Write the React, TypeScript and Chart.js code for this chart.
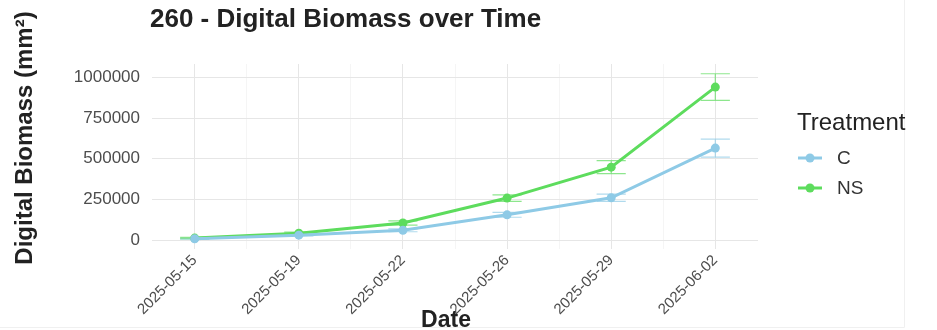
import React, { useEffect, useRef } from "react";
import { Chart, registerables } from "chart.js";

Chart.register(...registerables);

const TITLE = "260 - Digital Biomass over Time";
const X_TITLE = "Date";
const Y_TITLE = "Digital Biomass (mm²)";
const LEGEND_TITLE = "Treatment";

const dates = ["2025-05-15", "2025-05-19", "2025-05-22", "2025-05-26", "2025-05-29", "2025-06-02"];
const seriesNames = ["C", "NS"];
const cValues = [8000, 30000, 60000, 155000, 260000, 565000];
const cErrors = [3000, 5000, 9000, 15000, 22000, 55000];
const nsValues = [12000, 42000, 105000, 258000, 448000, 940000];
const nsErrors = [4000, 7000, 13000, 20000, 40000, 82000];
const yTicks = [0, 125000, 250000, 375000, 500000, 625000, 750000, 875000, 1000000];
const xTicks = [0, 0.5, 1, 1.5, 2, 2.5, 3, 3.5, 4, 4.5, 5];

const C_COLOR = "#8ecae6";
const NS_COLOR = "#5ddc5d";
const FONT = "'Liberation Sans', Arial, sans-serif";

const errorBarPlugin = {
  id: "errorBars",
  beforeDatasetsDraw(chart: any) {
    const { ctx, scales } = chart;
    const x = scales.x;
    const y = scales.y;
    chart.data.datasets.forEach((ds: any) => {
      const errs: number[] = ds.errors;
      ctx.save();
      ctx.strokeStyle = ds.borderColor;
      ctx.globalAlpha = 0.7;
      ctx.lineWidth = 1.2;
      ds.data.forEach((pt: any, i: number) => {
        const xc = x.getPixelForValue(pt.x);
        const xl = x.getPixelForValue(pt.x - 0.14);
        const xr = x.getPixelForValue(pt.x + 0.14);
        const yt = y.getPixelForValue(pt.y + errs[i]);
        const yb = y.getPixelForValue(pt.y - errs[i]);
        ctx.beginPath();
        ctx.moveTo(xl, yt); ctx.lineTo(xr, yt);
        ctx.moveTo(xl, yb); ctx.lineTo(xr, yb);
        ctx.moveTo(xc, yt); ctx.lineTo(xc, yb);
        ctx.stroke();
      });
      ctx.restore();
    });
  },
};

const textPlugin = {
  id: "texts",
  afterDraw(chart: any) {
    const { ctx, chartArea } = chart;
    ctx.save();
    // faint outer frame edges
    ctx.strokeStyle = "#f0f0f0";
    ctx.lineWidth = 1;
    ctx.beginPath();
    ctx.moveTo(904.5, 0); ctx.lineTo(904.5, 327.5); ctx.lineTo(0, 327.5);
    ctx.stroke();

    ctx.fillStyle = "#222222";
    ctx.textBaseline = "middle";
    // title
    ctx.font = `bold 26px ${FONT}`;
    ctx.textAlign = "left";
    ctx.fillText(TITLE, chartArea.left - 2, 20);
    // x title
    ctx.font = `bold 23px ${FONT}`;
    ctx.textAlign = "center";
    ctx.fillText(X_TITLE, (chartArea.left + chartArea.right) / 2 - 9, 321);
    // y title
    ctx.save();
    ctx.translate(25, 138);
    ctx.rotate(-Math.PI / 2);
    ctx.font = `bold 24px ${FONT}`;
    ctx.fillText(Y_TITLE, 0, 0);
    ctx.restore();
    // legend
    const lx = chartArea.right + 39;
    ctx.font = `24px ${FONT}`;
    ctx.textAlign = "left";
    ctx.fillStyle = "#222222";
    ctx.fillText(LEGEND_TITLE, lx, 123);
    chart.data.datasets.forEach((ds: any, i: number) => {
      const cy = 158 + i * 30;
      ctx.strokeStyle = ds.borderColor;
      ctx.lineWidth = ds.borderWidth;
      ctx.beginPath();
      ctx.moveTo(lx + 1, cy);
      ctx.lineTo(lx + 25, cy);
      ctx.stroke();
      ctx.fillStyle = ds.borderColor;
      ctx.beginPath();
      ctx.arc(lx + 13, cy, ds.pointRadius, 0, Math.PI * 2);
      ctx.fill();
      ctx.fillStyle = "#333333";
      ctx.font = `19px ${FONT}`;
      ctx.fillText(ds.label, lx + 40, cy + 1);
    });
    ctx.restore();
  },
};

const gridColor = (major: (v: number) => boolean) => (c: any) =>
  c.tick && major(c.tick.value) ? "#e6e6e6" : "#f1f1f1";
const gridWidth = (major: (v: number) => boolean) => (c: any) =>
  c.tick && major(c.tick.value) ? 1 : 0.7;

export default function App() {
  const ref = useRef<HTMLCanvasElement | null>(null);
  useEffect(() => {
    if (!ref.current) return;
    const isMajorY = (v: number) => v % 250000 === 0;
    const isMajorX = (v: number) => Number.isInteger(v);
    const chart = new Chart(ref.current, {
      type: "line",
      data: {
        datasets: [
          {
            label: seriesNames[0],
            data: cValues.map((v, i) => ({ x: i, y: v })),
            errors: cErrors,
            borderColor: C_COLOR,
            backgroundColor: C_COLOR,
            borderWidth: 3,
            pointRadius: 4.5,
            pointBorderWidth: 0,
            tension: 0,
          } as any,
          {
            label: seriesNames[1],
            data: nsValues.map((v, i) => ({ x: i, y: v })),
            errors: nsErrors,
            borderColor: NS_COLOR,
            backgroundColor: NS_COLOR,
            borderWidth: 3,
            pointRadius: 4.5,
            pointBorderWidth: 0,
            tension: 0,
          } as any,
        ],
      },
      options: {
        animation: false,
        responsive: false,
        layout: { padding: { left: 0, top: 64, right: 179, bottom: 0 } },
        plugins: {
          legend: { display: false },
          title: { display: false },
          tooltip: { enabled: false },
        },
        scales: {
          x: {
            type: "linear",
            min: -0.41,
            max: 5.41,
            afterBuildTicks: (s: any) => {
              s.ticks = xTicks.map((v) => ({ value: v }));
            },
            afterFit: (s: any) => {
              s.height = 81.5;
            },
            border: { display: false },
            grid: { color: gridColor(isMajorX), lineWidth: gridWidth(isMajorX), drawTicks: false },
            ticks: {
              autoSkip: false,
              minRotation: 45,
              maxRotation: 45,
              padding: 3,
              color: "#4d4d4d",
              font: { family: FONT, size: 15 },
              callback: (v: any) => (Number.isInteger(v) ? dates[v] : ""),
            },
          },
          y: {
            type: "linear",
            min: -52000,
            max: 1082000,
            afterBuildTicks: (s: any) => {
              s.ticks = yTicks.map((v) => ({ value: v }));
            },
            afterFit: (s: any) => {
              s.width = 152;
            },
            border: { display: false },
            grid: { color: gridColor(isMajorY), lineWidth: gridWidth(isMajorY), drawTicks: false },
            ticks: {
              padding: 12,
              color: "#4d4d4d",
              font: { family: FONT, size: 17 },
              callback: (v: any) => (v % 250000 === 0 ? String(v) : ""),
            },
          },
        },
      } as any,
      plugins: [errorBarPlugin, textPlugin],
    });
    return () => chart.destroy();
  }, []);
  return (
    <div style={{ position: "fixed", left: 0, top: 0, width: 937, height: 330, background: "#fff" }}>
      <canvas ref={ref} width={937} height={330} style={{ display: "block" }} />
    </div>
  );
}
